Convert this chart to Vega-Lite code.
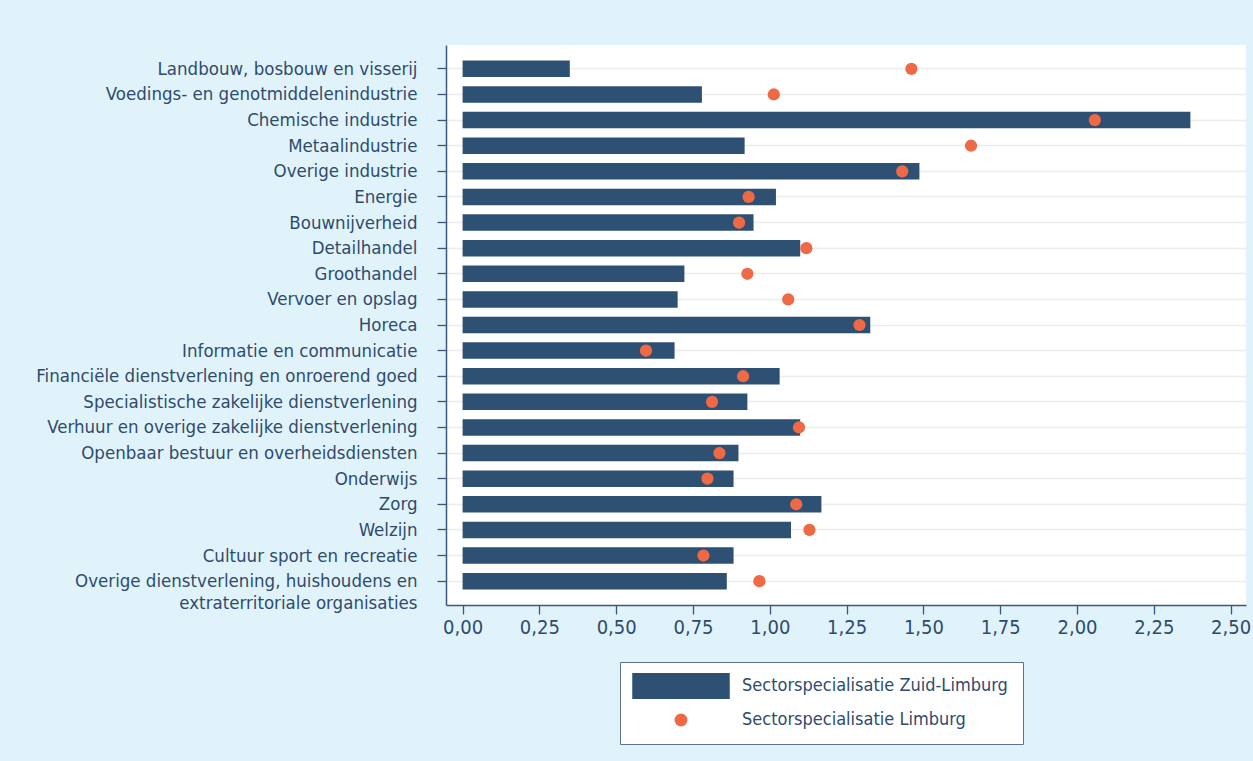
{
  "$schema": "https://vega.github.io/schema/vega-lite/v6.json",
  "width": 800,
  "height": 560,
  "autosize": {"type": "none"},
  "padding": {"left": 446, "top": 45, "right": 7, "bottom": 156},
  "background": "#e0f3fb",
  "config": {
    "view": {"fill": "white", "stroke": null},
    "font": "DejaVu Sans Condensed, sans-serif",
    "axis": {
      "labelFont": "DejaVu Sans Condensed, sans-serif",
      "labelColor": "#2f4b6c",
      "domainColor": "#3d5777",
      "tickColor": "#3d5777",
      "domainWidth": 1.5,
      "tickWidth": 1.3
    },
    "legend": {
      "labelFont": "DejaVu Sans Condensed, sans-serif"
    }
  },
  "data": {
    "values": [
      {"sector": "Landbouw, bosbouw en visserij", "zl": 0.349, "li": 1.461},
      {"sector": "Voedings- en genotmiddelenindustrie", "zl": 0.779, "li": 1.013},
      {"sector": "Chemische industrie", "zl": 2.369, "li": 2.058},
      {"sector": "Metaalindustrie", "zl": 0.918, "li": 1.655},
      {"sector": "Overige industrie", "zl": 1.487, "li": 1.431},
      {"sector": "Energie", "zl": 1.020, "li": 0.931},
      {"sector": "Bouwnijverheid", "zl": 0.947, "li": 0.900},
      {"sector": "Detailhandel", "zl": 1.099, "li": 1.119},
      {"sector": "Groothandel", "zl": 0.722, "li": 0.927},
      {"sector": "Vervoer en opslag", "zl": 0.700, "li": 1.060},
      {"sector": "Horeca", "zl": 1.327, "li": 1.292},
      {"sector": "Informatie en communicatie", "zl": 0.690, "li": 0.597},
      {"sector": "Financiële dienstverlening en onroerend goed", "zl": 1.032, "li": 0.913},
      {"sector": "Specialistische zakelijke dienstverlening", "zl": 0.927, "li": 0.812},
      {"sector": "Verhuur en overige zakelijke dienstverlening", "zl": 1.099, "li": 1.095},
      {"sector": "Openbaar bestuur en overheidsdiensten", "zl": 0.898, "li": 0.836},
      {"sector": "Onderwijs", "zl": 0.882, "li": 0.797},
      {"sector": "Zorg", "zl": 1.168, "li": 1.086},
      {"sector": "Welzijn", "zl": 1.069, "li": 1.129},
      {"sector": "Cultuur sport en recreatie", "zl": 0.882, "li": 0.784},
      {"sector": "Overige dienstverlening, huishoudens en extraterritoriale organisaties", "zl": 0.860, "li": 0.966}
    ]
  },
  "encoding": {
    "y": {
      "field": "sector",
      "type": "nominal",
      "sort": null,
      "title": null,
      "scale": {"paddingInner": 0.356, "paddingOuter": 0.61},
      "axis": {
        "labelFontSize": 18.5,
        "labelLimit": 500,
        "tickSize": 9,
        "labelPadding": 20,
        "grid": true,
        "gridColor": "#ececec",
        "gridWidth": 1.3,
        "labelLineHeight": 22,
        "labelExpr": "datum.value == 'Overige dienstverlening, huishoudens en extraterritoriale organisaties' ? ['Overige dienstverlening, huishoudens en', 'extraterritoriale organisaties'] : datum.label"
      }
    }
  },
  "layer": [
    {
      "mark": {"type": "bar", "color": "#2e5073"},
      "encoding": {
        "x": {
          "field": "zl",
          "type": "quantitative",
          "title": null,
          "scale": {"domain": [-0.054, 2.55], "nice": false, "zero": false},
          "axis": {
            "values": [0, 0.25, 0.5, 0.75, 1, 1.25, 1.5, 1.75, 2, 2.25, 2.5],
            "labelExpr": "replace(format(datum.value, '.2f'), '.', ',')",
            "labelFontSize": 20,
            "tickSize": 9,
            "labelPadding": 3,
            "grid": false
          }
        },
        "color": {
          "datum": "Sectorspecialisatie Zuid-Limburg",
          "type": "nominal",
          "scale": {
            "domain": ["Sectorspecialisatie Zuid-Limburg", "Sectorspecialisatie Limburg"],
            "range": ["#2e5073", "#ee6a46"]
          },
          "legend": {
            "title": null,
            "orient": "none",
            "legendX": 174,
            "legendY": 617,
            "direction": "vertical",
            "fillColor": "white",
            "strokeColor": "#5b7290",
            "padding": 15,
            "symbolSize": 169,
            "symbolOffset": 37,
            "symbolStrokeWidth": 0,
            "symbolOpacity": 1,
            "labelOffset": 52,
            "labelFontSize": 18,
            "labelColor": "#2f4b6c",
            "labelLimit": 600,
            "rowPadding": 12,
            "labelExpr": "datum.label + '\u00a0\u00a0\u00a0\u00a0\u00a0\u00a0\u00a0\u00a0\u00a0\u00a0\u00a0\u00a0\u00a0'"
          }
        }
      }
    },
    {
      "mark": {"type": "point", "filled": true, "opacity": 1, "size": 150},
      "encoding": {
        "x": {"field": "li", "type": "quantitative"},
        "color": {
          "datum": "Sectorspecialisatie Limburg",
          "type": "nominal"
        },
        "shape": {
          "datum": "Sectorspecialisatie Limburg",
          "type": "nominal",
          "scale": {
            "domain": ["Sectorspecialisatie Zuid-Limburg", "Sectorspecialisatie Limburg"],
            "range": ["M-7.5,-2H7.5V2H-7.5Z", "circle"]
          },
          "legend": {
            "title": null,
            "orient": "none",
            "legendX": 174,
            "legendY": 617,
            "direction": "vertical",
            "fillColor": "white",
            "strokeColor": "#5b7290",
            "padding": 15,
            "symbolSize": 169,
            "symbolOffset": 37,
            "symbolStrokeWidth": 0,
            "symbolOpacity": 1,
            "labelOffset": 52,
            "labelFontSize": 18,
            "labelColor": "#2f4b6c",
            "labelLimit": 600,
            "rowPadding": 12,
            "labelExpr": "datum.label + '\u00a0\u00a0\u00a0\u00a0\u00a0\u00a0\u00a0\u00a0\u00a0\u00a0\u00a0\u00a0\u00a0'"
          }
        }
      }
    }
  ]
}
